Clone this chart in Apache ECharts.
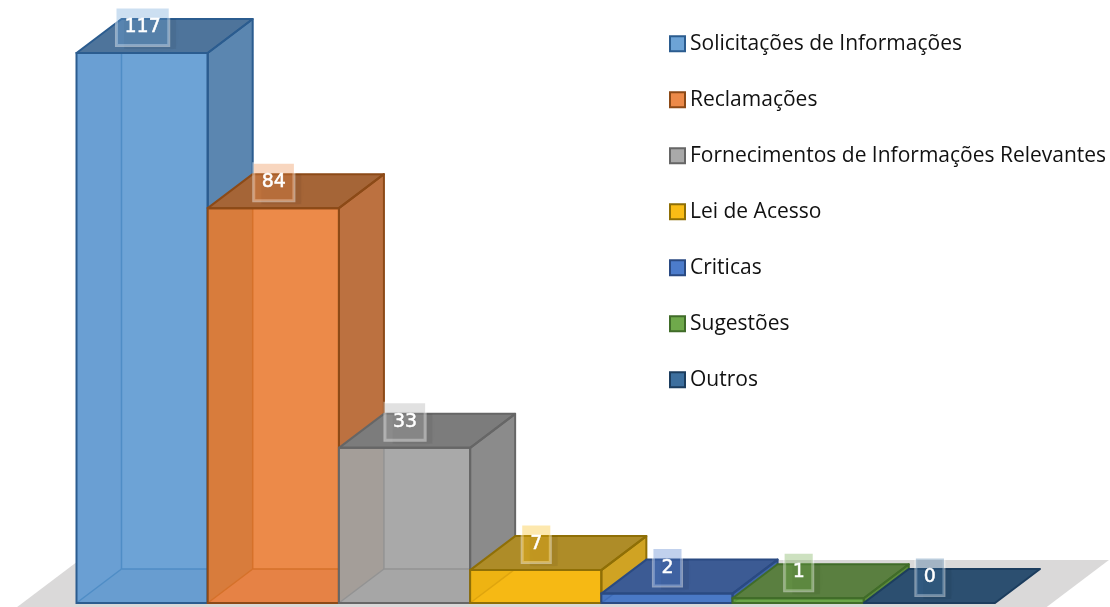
<!DOCTYPE html>
<html><head><meta charset="utf-8">
<style>html,body{margin:0;padding:0;background:#fff}#c{width:1110px;height:607px}</style>
<script src="https://cdn.jsdelivr.net/npm/echarts@6/dist/echarts.min.js"></script>
</head><body><div id="c"></div>
<script>
const categories = ['Solicitações de Informações','Reclamações','Fornecimentos de Informações Relevantes','Lei de Acesso','Criticas','Sugestões','Outros'];
const values = [117,84,33,7,2,1,0];
const frontColors = ['#6da3d6','#ec8a49','#a9a9a9','#fabd16','#4c7ccb','#6fa94b','#3d6f9e'];
const leftColors  = ['#6a9fd3','#d87c3c','#a49e99','#eeb312','#4876c0','#68a046','#386690'];
const floorColors = ['#689dd0','#e68245','#a6a6a6','#f6b914','#4a79c6','#6ba548','#386690'];
const topColors   = ['#4e749b','#a56537','#7c7c7c','#ae8c28','#3c5b94','#5a7f40','#2c4f70'];
const sideColors  = ['#5b86b0','#bc7140','#8b8b8b','#d0a323','#3f65a8','#5b8a3c','#2c4f70'];
const edgeColors  = ['#2b5c8f','#8c4a17','#666666','#8f6f06','#2a4a82','#406c29','#1c3d5e'];
const innerColors = ['#4f8dc6','#d5712a','#939393','#dfa50e','#3e6cb8','#5b9a3b','#386690'];
const depthX = 45, depthY = 34;

function bar(idx){
  return function(params, api){
    const v = api.value(1), cat = api.value(0);
    const band = api.size([1,0])[0];
    const c = api.coord([cat, v]), b = api.coord([cat, 0]);
    const x0 = c[0]-band/2, x1 = c[0]+band/2, top = c[1], base = b[1];
    const h = base-top, dY = Math.min(h, depthY), dX = depthX*dY/depthY;
    const poly = (pts, fill) => ({type:'polygon', shape:{points:pts}, style:{fill:fill, stroke:null}});
    const line = (x1_,y1_,x2_,y2_,col,w) => ({type:'line', shape:{x1:x1_,y1:y1_,x2:x2_,y2:y2_}, style:{stroke:col, lineWidth:w}});
    const kids = [];
    if (h > 0){
      kids.push(poly([[x0,top],[x1,top],[x1,base],[x0,base]], frontColors[idx]));
      kids.push(poly([[x0,base],[x1,base],[x1,base-dY],[x0+dX,base-dY]], floorColors[idx]));
      kids.push(poly([[x0,top],[x0+dX,top],[x0+dX,base-dY],[x0,base]], leftColors[idx]));
      kids.push(line(x0+dX,top,x0+dX,base-dY,innerColors[idx],1.5));
      if (h > depthY) kids.push(line(x0+dX,base-dY,x1,base-dY,innerColors[idx],1.5));
      kids.push(line(x0,base,x0+dX,base-dY,innerColors[idx],1.5));
      kids.push(poly([[x1,top],[x1+depthX,top-depthY],[x1+depthX,base-depthY],[x1,base]], sideColors[idx]));
    }
    kids.push({type:'polygon', shape:{points:[[x0,top],[x0+depthX,top-depthY],[x1+depthX,top-depthY],[x1,top]]},
      style:{fill:topColors[idx], stroke:edgeColors[idx], lineWidth:2, lineJoin:'round'}});
    if (h > 0){
      kids.push({type:'polygon', shape:{points:[[x1,top],[x1+depthX,top-depthY],[x1+depthX,base-depthY],[x1,base]]},
        style:{fill:'none', stroke:edgeColors[idx], lineWidth:2, lineJoin:'round'}});
      kids.push({type:'rect', shape:{x:x0,y:top,width:band,height:h},
        style:{fill:'none', stroke:edgeColors[idx], lineWidth:2}});
    }
    const boxW = String(v).length*12+18;
    kids.push({type:'rect', silent:true, z2:40, shape:{x:c[0]-boxW/2+9, y:top-34, width:boxW-2, height:30},
      style:{fill:'rgba(0,0,0,0.05)', shadowBlur:12, shadowColor:'rgba(0,0,0,0.25)'}});
    kids.push({type:'text', z2:50, style:{
      x:c[0]+0.5, y:top-26, text:String(v), align:'center', verticalAlign:'middle',
      fill:'#fff', stroke:'#fff', lineWidth:0.5, font:'19px "DejaVu Sans"',
      backgroundColor:frontColors[idx]+'59', borderColor:'rgba(255,255,255,0.42)', borderWidth:1.5,
      padding:[13,8,5,8]
    }});
    return {type:'group', children:kids};
  };
}
function floorItem(params, api){
  const band = api.size([1,0])[0];
  const first = api.coord([0,0]), last = api.coord([categories.length-1,0]);
  const left = first[0]-band/2, right = last[0]+band/2, y0 = first[1];
  const pad = 54, back = 43, frontExt = 6;
  const k = depthX/depthY;
  return {type:'polygon', shape:{points:[
    [left-pad-frontExt*k, y0+frontExt],
    [left-pad+back*k, y0-back],
    [right+pad+back*k+3, y0-back],
    [right+pad-frontExt*k+3, y0+frontExt]
  ]}, style:{fill:'#dad9d9'}};
}
const series = [{name:'piso', type:'custom', silent:true, data:[[0,0]], renderItem:floorItem, encode:{x:0,y:1}, clip:false}];
categories.forEach((name,i)=>{
  series.push({name, type:'custom', data:[[i,values[i]]], renderItem:bar(i), encode:{x:0,y:1}, clip:false,
    itemStyle:{color:frontColors[i], borderColor:edgeColors[i], borderWidth:2}});
});
const chart = echarts.init(document.getElementById('c'), null, {renderer:'canvas'});
chart.setOption({
  animation:false, backgroundColor:'#fff',
  grid:{left:76.5, right:115, top:53, bottom:4},
  xAxis:{type:'category', data:categories, show:false, boundaryGap:true},
  yAxis:{type:'value', min:0, max:117, show:false},
  legend:{data:categories, orient:'vertical', left:664, top:28, itemWidth:15, itemHeight:15, itemGap:34.5, icon:'rect',
    textStyle:{fontFamily:'"Open Sans"', fontSize:21, color:'#111', padding:[0,0,0,0], lineHeight:21.5},
    selectedMode:false},
  tooltip:{show:false},
  series
});
</script></body></html>
